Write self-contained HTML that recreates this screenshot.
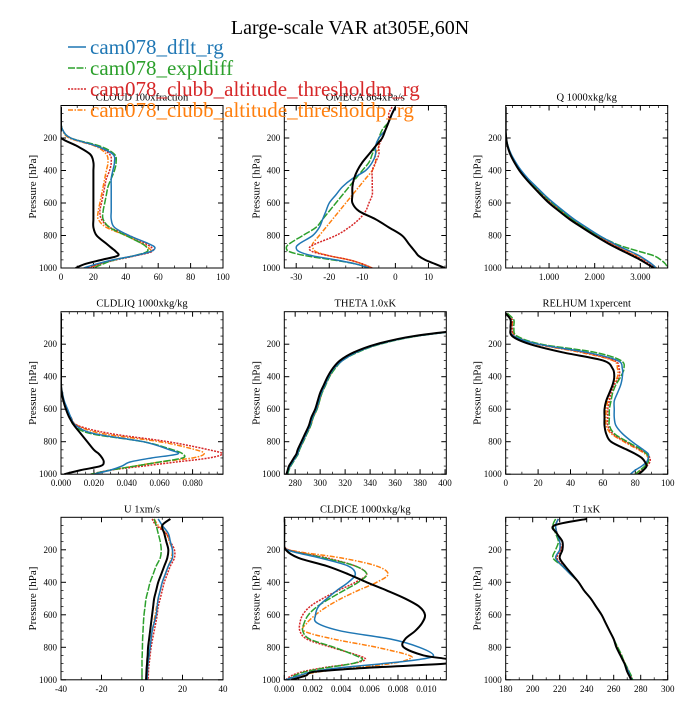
<!DOCTYPE html>
<html><head><meta charset="utf-8">
<style>
body{margin:0;background:#fff;}
svg text{font-family:"Liberation Serif",serif;}
</style></head>
<body>
<svg id="fig" width="700" height="700" viewBox="0 0 700 700" xmlns="http://www.w3.org/2000/svg">
<rect width="700" height="700" fill="#fff"/>
<text x="350" y="34" font-size="20" text-anchor="middle">Large-scale VAR at305E,60N</text>
<g id="plots"></g>
<g id="legend"></g>
</svg>
<script>
// Shared pressure levels (hPa)
const levels = [10,50,100,150,200,250,300,350,400,450,500,550,600,650,700,750,800,850,875,900,925,950,975,1000];
const seriesNames = ["cam078_dflt_rg","cam078_expldiff","cam078_clubb_altitude_thresholdm_rg","cam078_clubb_altitude_thresholdp_rg"];

// CLOUD
const cloudObs = [0,0,0,0,0,10,18,20,20,20,20,20,20,20,20,20,22,28,31,34,35,25,15,9];
const cloudDflt = [0,0,0,1,6,22,32,33,32,31,31,31,31,31,31,33,42,54,58,55,45,32,22,14];
const cloudExpl = [0,0,0,1,6,24,33,34,33,31,29,28,27,26,26,30,40,50,53,53,45,33,26,20];
const cloudThm = [0,0,0,1,6,22,30,31,30,28,27,26,25,24,25,30,42,52,56,56,46,34,24,16];
const cloudThp = [0,0,0,1,5,21,28,29,28,27,26,25,24,23,23,28,40,50,54,55,45,32,24,18];
// OMEGA
const omegaObs = [0,-1,-2,-3,-4,-6,-8,-10,-11.5,-12.5,-13,-13,-13,-11,-6,-2,2,4,5,6,7,9,12,15];
const omegaDflt = [0,-1,-2,-3,-5,-6,-6,-7,-9,-13,-16,-18,-20,-21,-22,-23,-25,-29,-30,-29,-25,-18,-12,-8];
const omegaExpl = [0,-1,-2,-4,-5,-6,-7,-8,-10,-12,-14,-16,-18,-20,-22,-24,-28,-32,-33,-32,-27,-19,-12,-8];
const omegaThm = [-1,-2,-2,-3,-4,-5,-5,-6,-7,-7,-7,-7,-8,-9,-11,-14,-18,-24,-26,-25,-20,-14,-10,-7];
const omegaThp = [0,-1,-2,-3,-5,-5,-6,-6,-7,-9,-11,-13,-15,-17,-19,-21,-23,-25,-25,-24,-20,-14,-10,-7];
// Q
const qObs = [0.05,0.05,0.05,0.05,0.06,0.09,0.15,0.24,0.35,0.49,0.65,0.82,1.0,1.22,1.45,1.72,2.0,2.3,2.47,2.65,2.83,3.0,3.15,3.3];
const qDflt = [0.05,0.05,0.05,0.05,0.06,0.1,0.17,0.27,0.39,0.54,0.72,0.9,1.1,1.32,1.55,1.82,2.1,2.42,2.6,2.8,2.98,3.12,3.25,3.35];
const qExpl = [0.05,0.05,0.05,0.05,0.06,0.1,0.16,0.26,0.38,0.52,0.7,0.88,1.07,1.28,1.5,1.78,2.08,2.45,2.7,3.0,3.3,3.45,3.55,3.6];
const qThm = [0.05,0.05,0.05,0.05,0.06,0.09,0.16,0.25,0.37,0.51,0.68,0.85,1.04,1.26,1.49,1.76,2.05,2.35,2.52,2.7,2.88,3.05,3.2,3.32];
const qThp = [0.05,0.05,0.05,0.05,0.06,0.1,0.16,0.26,0.38,0.52,0.69,0.87,1.06,1.28,1.51,1.78,2.07,2.38,2.56,2.75,2.93,3.1,3.24,3.36];
// CLDLIQ
const liqObs = [0,0,0,0,0,0,0,0,0,0,0.0005,0.0015,0.003,0.005,0.008,0.012,0.016,0.02,0.023,0.025,0.026,0.024,0.012,0.002];
const liqDflt = [0,0,0,0,0,0,0,0,0,0,0.0008,0.002,0.004,0.006,0.009,0.02,0.05,0.066,0.071,0.055,0.042,0.037,0.03,0.02];
const liqExpl = [0,0,0,0,0,0,0,0,0,0,0.0007,0.0018,0.0035,0.0055,0.008,0.018,0.05,0.068,0.074,0.074,0.06,0.045,0.03,0.018];
const liqThm = [0,0,0,0,0,0,0,0,0,0,0.0006,0.0016,0.003,0.006,0.01,0.03,0.065,0.09,0.098,0.09,0.07,0.05,0.03,0.018];
const liqThp = [0,0,0,0,0,0,0,0,0,0,0.0006,0.0016,0.003,0.006,0.01,0.025,0.06,0.082,0.087,0.08,0.06,0.045,0.03,0.02];
// THETA
const thObs = [700,500,430,375,345,327,316,310,306,303,300,298,296,293,291,288,285,282,281,279,277,275,274,273];
const thDflt = [700,500,432,377,347,329,318,311,307,304,301,299,297,294,292,289,286,283,282,280,278,276,274.5,273.5];
const thExpl = [700,500,433,378,348,330,318,312,307.5,304.5,301.5,299.5,297.5,294.5,292.5,289.5,286.5,283.5,282.5,280.5,278.5,276.5,275,274];
const thThm = [700,500,432,377,347,329,317.5,311,307,304,301,299,297,294,292,289,286,283,282,280,278,276,274.5,273.5];
const thThp = [700,500,432,377,347,329,318,311.5,307.5,304.5,301.5,299.5,297.5,294.5,292.5,289.5,286.5,283,282,280,278,276,274.5,273.5];
// RELHUM
const rhObs = [0,3,3,4,15,35,60,66,67,66,64,62,61,61,61,62,65,75,80,84,86,87,85,82];
const rhDflt = [0,3,3,5,20,50,69,72,72,71,69,67,67,67,68,72,78,85,88,88,87,84,80,77];
const rhExpl = [1,5,5,7,22,55,71,73,71,68,66,65,64,64,64,67,75,84,87,88,88,86,83,80];
const rhThm = [1,4,4,6,20,48,67,70,70,67,65,64,63,63,63,66,74,83,87,89,89,87,84,81];
const rhThp = [1,4,4,6,19,46,66,69,69,66,64,63,62,62,62,65,73,82,86,88,88,86,83,80];
// U
const uObs = [14,10,11,12,13,12.5,11,9.5,8,7,6,5.5,5,4.5,4,3.5,3,2.8,2.6,2.5,2.3,2.2,2.1,2];
const uDflt = [8,10,13,14,15,15,13,11.5,10,9,8,7.5,7,6,5,4.5,4,3.5,3.2,3,2.8,2.7,2.6,2.5];
const uExpl = [6,7,8,9,9.5,9,7,5.5,4,3,2,1.5,1,0.7,0.5,0.3,0.2,0.1,0,0,0,0,0,0];
const uThm = [5,7,12,14,16,16,14,12.5,11,10,9,8,7.5,6.8,6,5.2,4.5,4,3.8,3.5,3.3,3.2,3.1,3];
const uThp = [6,8,12,13.5,15,14.5,13,11.5,10,9,8,7.2,6.5,5.8,5,4.5,4,3.5,3.2,3,2.8,2.7,2.6,2.5];
// CLDICE
const iceObs = [0,0,0,0,0.0001,0.001,0.003,0.0045,0.0058,0.0072,0.0085,0.0095,0.0099,0.0097,0.0092,0.0085,0.0084,0.0098,0.0116,0.0114,0.006,0.0022,0.0015,0.0005];
const iceDflt = [0,0,0,0,0.0002,0.0025,0.0045,0.005,0.0045,0.0037,0.003,0.0024,0.0022,0.0023,0.004,0.0075,0.0095,0.0105,0.0095,0.007,0.004,0.002,0.001,0.0001];
const iceExpl = [0,0,0,0,0.0002,0.0028,0.005,0.0058,0.0052,0.0042,0.0032,0.0023,0.0017,0.0014,0.0013,0.0018,0.0035,0.005,0.0055,0.0048,0.003,0.0015,0.0007,0.0002];
const iceThm = [0,0,0,0,0.0003,0.003,0.005,0.0058,0.005,0.0038,0.0027,0.0018,0.0013,0.0011,0.0011,0.0016,0.0033,0.0052,0.0057,0.0048,0.0028,0.0013,0.0005,0.0001];
const iceThp = [0,0,0,0,0.0003,0.004,0.0065,0.0073,0.0065,0.0052,0.004,0.003,0.0022,0.0016,0.0014,0.0035,0.0065,0.0088,0.0087,0.0075,0.005,0.0025,0.001,0.0003];
// T
const tObs = [240,216,218,222,222,220,224,229,234,238,243,247,251,254,257,260,262,265,266.5,268,269,270,271.5,273];
const tDflt = [219,217,218,220,220,217,222,228,234,238,243,247,251,254,257,260,262,265,266.5,268,269.5,271,272,273.5];
const tExpl = [217,215,217,219,217,215,222,228,234,238,243,247,251,254,257,260,263,266,267,268.5,270,271.5,273,274];
const tThm = [219,217,218,220,221,218,222.5,228,234,238,243,247,251,254,257,260,262.5,265.5,267,268,269.5,271,272.5,273.5];
const tThp = [219,217,218,220,220.5,217.5,222,228,234,238,243,247,251,254,257,260,262.5,265.5,267,268.5,270,271,272.5,273.5];

// Tick labels
const ticksCloud = [0,20,40,60,80,100];
const ticksOmega = [-30,-20,-10,0,10];
const ticksQ = [1,2,3];
const ticksLiq = [0,0.02,0.04,0.06,0.08];
const ticksTheta = [280,300,320,340,360,380,400];
const ticksRh = [0,20,40,60,80,100];
const ticksU = [-40,-20,0,20,40];
const ticksIce = [0,0.002,0.004,0.006,0.008,0.010];
const ticksT = [180,200,220,240,260,280,300];
const ticksP = [200,400,600,800,1000];

const NS="http://www.w3.org/2000/svg";
const colX=[61,284.3,505.7], rowY=[105.5,311.7,517.3], W=162, H=162.5;
const colors=["#000","#1f77b4","#2ca02c","#d62728","#ff7f0e"];
const widths=[2,1.5,1.5,1.5,1.5];
const dashes=[null,null,"7,1.5","2,1.2","5,1.5,1.5,1.5"];

const panels=[
 {name:"cloud",title:"CLOUD  100xfraction",min:0,max:100,ticks:ticksCloud,dec:0,minor:10,data:[cloudObs,cloudDflt,cloudExpl,cloudThm,cloudThp]},
 {name:"omega",title:"OMEGA  864xPa/s",min:-33.6,max:15.4,ticks:ticksOmega,dec:0,minor:5,data:[omegaObs,omegaDflt,omegaExpl,omegaThm,omegaThp]},
 {name:"q",title:"Q  1000xkg/kg",min:0.05,max:3.6,ticks:ticksQ,dec:3,minor:0.2,data:[qObs,qDflt,qExpl,qThm,qThp]},
 {name:"cldliq",title:"CLDLIQ  1000xkg/kg",min:0,max:0.0985,ticks:ticksLiq,dec:3,minor:0.005,data:[liqObs,liqDflt,liqExpl,liqThm,liqThp]},
 {name:"theta",title:"THETA  1.0xK",min:271.3,max:401,ticks:ticksTheta,dec:0,minor:10,data:[thObs,thDflt,thExpl,thThm,thThp]},
 {name:"relhum",title:"RELHUM  1xpercent",min:0,max:100,ticks:ticksRh,dec:0,minor:10,data:[rhObs,rhDflt,rhExpl,rhThm,rhThp]},
 {name:"u",title:"U  1xm/s",min:-40,max:40,ticks:ticksU,dec:0,minor:10,data:[uObs,uDflt,uExpl,uThm,uThp]},
 {name:"cldice",title:"CLDICE  1000xkg/kg",min:0,max:0.0114,ticks:ticksIce,dec:3,minor:0.0005,data:[iceObs,iceDflt,iceExpl,iceThm,iceThp]},
 {name:"t",title:"T  1xK",min:180,max:300,ticks:ticksT,dec:0,minor:10,data:[tObs,tDflt,tExpl,tThm,tThp]}
];

function mk(tag,attrs,parent){const e=document.createElementNS(NS,tag);for(const k in attrs)e.setAttribute(k,attrs[k]);if(parent)parent.appendChild(e);return e;}
function smooth(pts){let d="M"+pts[0][0].toFixed(2)+","+pts[0][1].toFixed(2);
 for(let i=0;i<pts.length-1;i++){const p0=pts[i-1]||pts[i],p1=pts[i],p2=pts[i+1],p3=pts[i+2]||p2;
  const c1=[p1[0]+(p2[0]-p0[0])/6,p1[1]+(p2[1]-p0[1])/6],c2=[p2[0]-(p3[0]-p1[0])/6,p2[1]-(p3[1]-p1[1])/6];
  d+=" C"+c1[0].toFixed(2)+","+c1[1].toFixed(2)+" "+c2[0].toFixed(2)+","+c2[1].toFixed(2)+" "+p2[0].toFixed(2)+","+p2[1].toFixed(2);}
 return d;}

const root=document.getElementById("plots");
panels.forEach((pn,i)=>{
 const x0=colX[i%3], y0=rowY[Math.floor(i/3)];
 const xs=v=>x0+(v-pn.min)/(pn.max-pn.min)*W;
 const ys=p=>y0+p/1000*H;
 const g=mk("g",{},root);
 
 
 const cp=mk("clipPath",{id:"cp"+i},g);mk("rect",{x:x0,y:y0,width:W,height:H},cp);
 const t=mk("text",{x:x0+W/2,y:y0-5,"font-size":10.5,"text-anchor":"middle"},g);t.textContent=pn.title;
 
 
 const yl=mk("text",{x:0,y:0,"font-size":11,"text-anchor":"middle",transform:`translate(${x0-25},${y0+H/2}) rotate(-90)`},g);yl.textContent="Pressure [hPa]";
 
 
 for(let p=50;p<=1000;p+=50){const maj=p%200===0;const L=maj?5:2.5;
  mk("line",{x1:x0,x2:x0+L,y1:ys(p),y2:ys(p),stroke:"#000","stroke-width":maj?1:0.7},g);
  mk("line",{x1:x0+W,x2:x0+W-L,y1:ys(p),y2:ys(p),stroke:"#000","stroke-width":maj?1:0.7},g);}
 ticksP.forEach(p=>{const tl=mk("text",{x:x0-4,y:ys(p)+3,"font-size":9,"text-anchor":"end"},g);tl.textContent=p;
  
  });
 const start=Math.ceil(pn.min/pn.minor-1e-9);
 for(let k=start;k*pn.minor<=pn.max+1e-9;k++){const v=k*pn.minor;const maj=pn.ticks.some(tv=>Math.abs(tv-v)<1e-9);const L=maj?5:2.5;
  mk("line",{x1:xs(v),x2:xs(v),y1:y0+H,y2:y0+H-L,stroke:"#000","stroke-width":maj?1:0.7},g);
  mk("line",{x1:xs(v),x2:xs(v),y1:y0,y2:y0+L,stroke:"#000","stroke-width":maj?1:0.7},g);}
 pn.ticks.forEach(v=>{const tl=mk("text",{x:xs(v),y:y0+H+12,"font-size":9,"text-anchor":"middle"},g);tl.textContent=v.toFixed(pn.dec);
  
  });
 const sg=mk("g",{"clip-path":`url(#cp${i})`},g);
 [4,3,2,1,0].forEach(s=>{const arr=pn.data[s];const pts=levels.map((p,j)=>[xs(arr[j]),ys(p)]);
  const path=mk("path",{d:smooth(pts),fill:"none",stroke:colors[s],"stroke-width":widths[s]},sg);
  if(dashes[s])path.setAttribute("stroke-dasharray",dashes[s]);
  
  });
 const fr=mk("rect",{x:x0,y:y0,width:W,height:H,fill:"none",stroke:"#000","stroke-width":1},g);
 
 
});

const lg=document.getElementById("legend");
seriesNames.forEach((n,k)=>{const y=47+k*21;
 const ln=mk("line",{x1:68,x2:86,y1:y,y2:y,stroke:colors[k+1],"stroke-width":1.5},lg);
 if(dashes[k+1])ln.setAttribute("stroke-dasharray",dashes[k+1]);
 const tx=mk("text",{x:90,y:y+7,"font-size":21,fill:colors[k+1]},lg);tx.textContent=n;
 
 });
</script>
</body></html>
